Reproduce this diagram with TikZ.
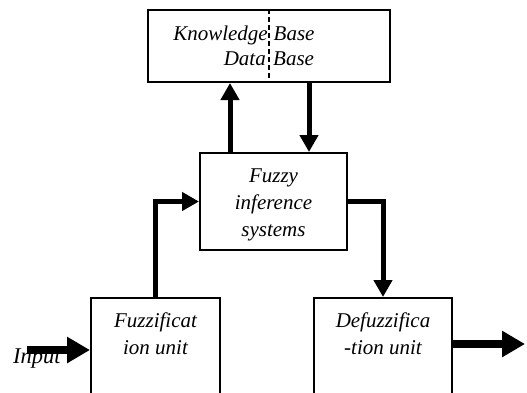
\documentclass[tikz,border=0pt]{standalone}
\usepackage{fontspec}
\setmainfont{Liberation Serif}
\usetikzlibrary{arrows.meta}
\begin{document}
\begin{tikzpicture}[x=1bp,y=-1bp,
  box/.style={draw, line width=2bp, inner sep=0pt, fill=white},
  txt/.style={font=\fontsize{21bp}{27bp}\selectfont\itshape, inner sep=0pt, align=center},
  conn/.style={line width=5bp, -{Triangle[width=18bp,length=17bp]}},
  bigarrow/.style={line width=8bp, -{Triangle[width=25bp,length=23bp]}}
]
\useasboundingbox (0,0) rectangle (527,392);
\clip (0,0) rectangle (527,392);
% boxes
\node[box, minimum width=242bp, minimum height=72bp] (kb) at (269,46) {};
\node[box, minimum width=147bp, minimum height=97bp] (fis) at (273.5,201.5) {};
\node[box, minimum width=129bp, minimum height=110bp] (fu) at (155.5,353) {};
\node[box, minimum width=138bp, minimum height=110bp] (df) at (383,353) {};
% dashed divider
\draw[line width=1.5bp, dash pattern=on 5bp off 3bp] (kb.north) -- (kb.south);
% texts
\node[txt, anchor=base east] (k1) at (268,40) {Knowledge};
\node[txt, anchor=base west] (k2) at (273.5,40) {Base};
\node[txt, anchor=base east] (d1) at (266,65) {Data};
\node[txt, anchor=base west] (d2) at (273,65) {Base};
\node[txt, anchor=north] (fist) at (273.5,168.5) {Fuzzy\\inference\\systems};
\node[txt, anchor=north] (fut) at (155.5,312.5) {Fuzzificat\\ion unit};
\node[txt, anchor=north] (dft) at (383,312.5) {Defuzzifica\\-tion unit};
% connectors
\coordinate (ux) at (230,0);
\coordinate (dx) at (309,0);
\draw[conn] (ux |- fis.north) -- (ux |- kb.south);
\draw[conn] (dx |- kb.south) -- (dx |- fis.north);
\draw[conn] (fu.north) |- (fis.west);
\draw[conn] (fis.east) -| (df.north);
% input / output
\coordinate (inS) at (27,350);
\coordinate (outE) at (525,344);
\draw[bigarrow] (inS) -- (inS -| fu.west);
\draw[bigarrow] (df.east |- outE) -- (outE);
\node[txt, font=\fontsize{22.5bp}{27bp}\selectfont\itshape, anchor=base west] (inp) at (13,363) {Input};
\end{tikzpicture}
\end{document}
